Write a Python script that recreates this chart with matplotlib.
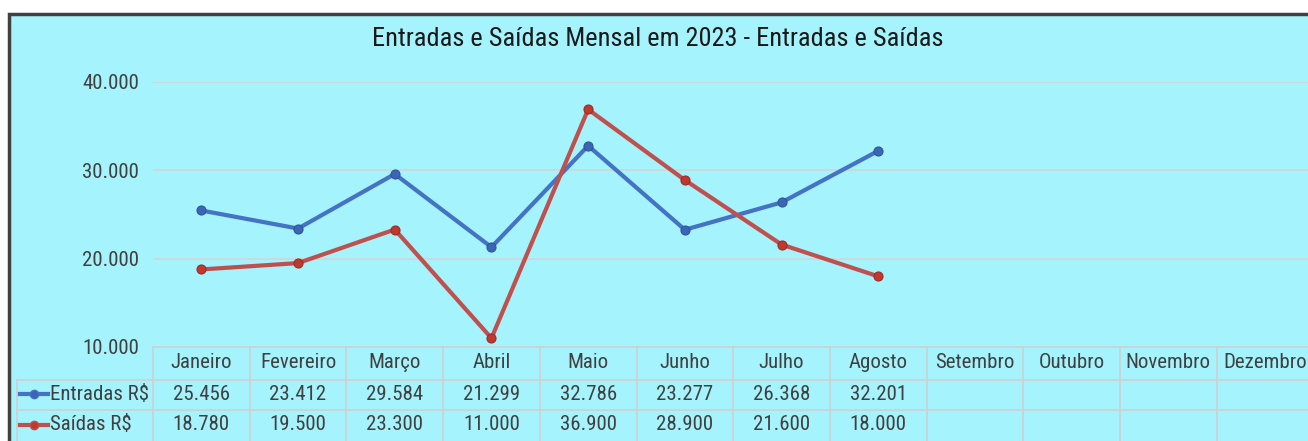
import matplotlib
matplotlib.use("Agg")
import matplotlib.pyplot as plt
from matplotlib import font_manager
from matplotlib.patches import Rectangle
from matplotlib.lines import Line2D

# ---- data ----
months = ["Janeiro", "Fevereiro", "Março", "Abril", "Maio", "Junho", "Julho",
          "Agosto", "Setembro", "Outubro", "Novembro", "Dezembro"]
entradas = [25456, 23412, 29584, 21299, 32786, 23277, 26368, 32201]
saidas = [18780, 19500, 23300, 11000, 36900, 28900, 21600, 18000]
series_names = ["Entradas R$", "Saídas R$"]
title = "Entradas e Saídas Mensal em 2023 - Entradas e Saídas"
yticks = [10000, 20000, 30000, 40000]

# ---- font choice ----
avail = {f.name for f in font_manager.fontManager.ttflist}
fam = "DejaVu Sans"
for cand in ["Liberation Sans Narrow", "Roboto Condensed", "Open Sans Condensed",
             "DejaVu Sans Condensed", "Roboto"]:
    if cand in avail:
        fam = cand
        break
plt.rcParams["font.family"] = [fam, "DejaVu Sans"]

W, H = 1308, 441
fig = plt.figure(figsize=(W / 100, H / 100), dpi=100, facecolor="white")

BG = "#A5F3FC"
TXT = "#404040"
GRID = "#D4D4D4"
BLUE = "#4472C4"
RED = "#C0504D"
FS = 15

# chart area with border
fig.patches.append(Rectangle((9 / W, -0.05), 1.1, (H - 14) / H + 0.05,
                             transform=fig.transFigure, facecolor=BG,
                             edgecolor="#404040", linewidth=2.5, zorder=-5))

left_px, colw = 153, 96.7
top_px, bot_px = 82, 347
ax = fig.add_axes([left_px / W, (H - bot_px) / H, 12 * colw / W, (bot_px - top_px) / H])
ax.set_zorder(2)
ax.set_facecolor("none")
ax.patch.set_visible(False)
ax.set_xlim(-0.5, 11.5)
ax.set_ylim(10000, 40000)
ax.set_yticks(yticks)
ax.set_yticklabels([f"{v:,}".replace(",", ".") for v in yticks])
ax.tick_params(axis="y", length=0, pad=10, labelsize=FS, labelcolor=TXT)
ax.set_xticks([])
for s in ax.spines.values():
    s.set_visible(False)
for v in yticks[1:]:
    ax.axhline(v, color=GRID, lw=1.2, zorder=1)

x_e = list(range(len(entradas)))
x_s = list(range(len(saidas)))
ax.plot(x_e, entradas, color=BLUE, lw=3, marker="o", ms=6.5, mfc="#3A66B5",
        mec="#2F5597", mew=0.8, zorder=3, solid_capstyle="round", clip_on=False)
ax.plot(x_s, saidas, color=RED, lw=3, marker="o", ms=6.5, mfc="#C0392B",
        mec="#9E2A2A", mew=0.8, zorder=3, solid_capstyle="round", clip_on=False)

fig.suptitle(title, x=658 / W, y=1 - 39 / H, va="center", fontsize=19,
             color="#1A1A1A")

# ---- data table (drawn in figure pixel coords) ----
def fx(px):
    return px / W

def fy(py):
    return 1 - py / H

row_y = [347, 380, 410, 445]
label_left = 17
lc = "#CFCFCF"
fig.add_artist(Line2D([fx(left_px), fx(left_px + 12 * colw)], [fy(row_y[0])] * 2, color=lc, lw=1.2))
for r in row_y[1:3]:
    fig.add_artist(Line2D([fx(label_left), fx(left_px + 12 * colw)], [fy(r)] * 2, color=lc, lw=1.2))
fig.add_artist(Line2D([fx(label_left)] * 2, [fy(row_y[1]), fy(row_y[3])], color=lc, lw=1.2))
for i in range(13):
    xpx = left_px + i * colw
    fig.add_artist(Line2D([fx(xpx)] * 2, [fy(row_y[0]), fy(row_y[3])], color=lc, lw=1.2))

for i, m in enumerate(months):
    cx = left_px + (i + 0.5) * colw
    fig.text(fx(cx), fy(362), m, ha="center", va="center", fontsize=FS, color=TXT)
for vals, ry in [(entradas, 394), (saidas, 425)]:
    for i, v in enumerate(vals):
        cx = left_px + (i + 0.5) * colw
        fig.text(fx(cx), fy(ry), f"{v:,}".replace(",", "."), ha="center",
                 va="center", fontsize=FS, color=TXT)

for name, col, mfc, ry in [(series_names[0], BLUE, "#3A66B5", 394),
                           (series_names[1], RED, "#C0392B", 425)]:
    fig.add_artist(Line2D([fx(20), fx(48)], [fy(ry)] * 2, color=col, lw=3))
    fig.add_artist(Line2D([fx(34)], [fy(ry)], color=col, marker="o", ms=6,
                          mfc=mfc, mec=col))
    fig.text(fx(50), fy(ry), name, ha="left", va="center", fontsize=FS, color=TXT)

fig.savefig("out.png", dpi=100, facecolor="white")
